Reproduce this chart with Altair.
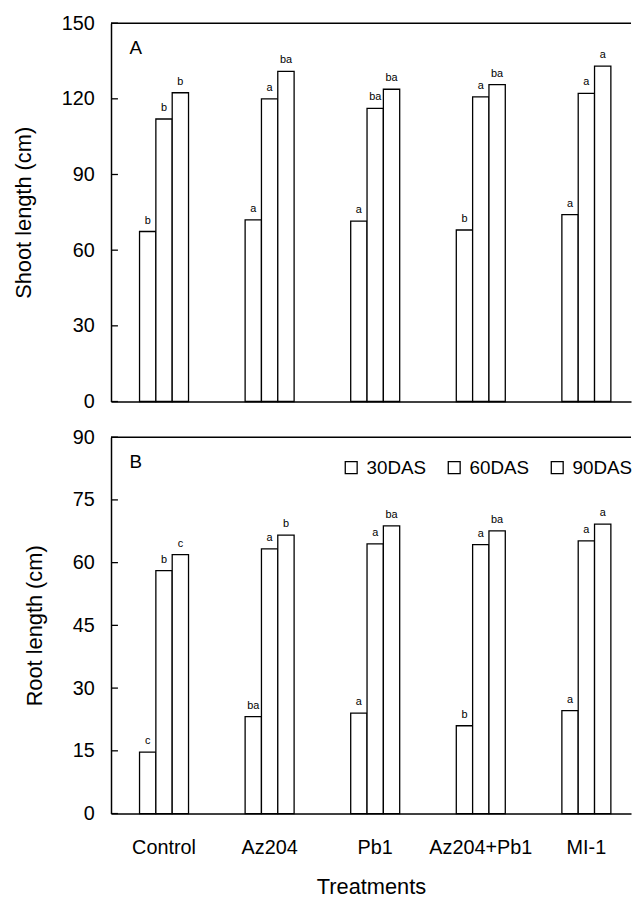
import altair as alt
import pandas as pd

treatments = ["Control", "Az204", "Pb1", "Az204+Pb1", "MI-1"]
stages = ["30DAS", "60DAS", "90DAS"]

shoot_30 = [67.4, 72.0, 71.5, 68.0, 74.1]
shoot_60 = [112.0, 120.0, 116.2, 120.8, 122.2]
shoot_90 = [122.4, 130.9, 123.8, 125.6, 133.0]
shoot_sig_30 = ["b", "a", "a", "b", "a"]
shoot_sig_60 = ["b", "a", "ba", "a", "a"]
shoot_sig_90 = ["b", "ba", "ba", "ba", "a"]

root_30 = [14.7, 23.2, 24.0, 21.0, 24.6]
root_60 = [58.1, 63.3, 64.5, 64.3, 65.2]
root_90 = [61.9, 66.6, 68.8, 67.6, 69.2]
root_sig_30 = ["c", "ba", "a", "b", "a"]
root_sig_60 = ["b", "a", "a", "a", "a"]
root_sig_90 = ["c", "b", "ba", "ba", "a"]

shoot_ticks = [0, 30, 60, 90, 120, 150]
root_ticks = [0, 15, 30, 45, 60, 75, 90]

FONT = "Liberation Sans"
W = 525


def make_df(v30, v60, v90, s30, s60, s90):
    rows = []
    for vals, sigs, st in [(v30, s30, "30DAS"), (v60, s60, "60DAS"), (v90, s90, "90DAS")]:
        for t, v, s in zip(treatments, vals, sigs):
            rows.append({"Treatment": t, "Stage": st, "Value": v, "Sig": s})
    return pd.DataFrame(rows)


shoot_df = make_df(shoot_30, shoot_60, shoot_90, shoot_sig_30, shoot_sig_60, shoot_sig_90)
root_df = make_df(root_30, root_60, root_90, root_sig_30, root_sig_60, root_sig_90)


def panel(df, ticks, ymax, ytitle, letter, bottom, height):
    if bottom:
        xaxis = alt.Axis(ticks=False, labelFontSize=20, labelPadding=24, labelAngle=0,
                         title="Treatments", titleFontSize=22, titleFontWeight="normal",
                         titlePadding=20, domainColor="black", domainWidth=1.5)
    else:
        xaxis = alt.Axis(ticks=False, labels=False, title=None,
                         domainColor="black", domainWidth=1.5)
    x = alt.X("Treatment:N", sort=treatments,
              scale=alt.Scale(paddingInner=0.536, paddingOuter=0.2305, align=0.586),
              axis=xaxis)
    xo = alt.XOffset("Stage:N", sort=stages,
                     scale=alt.Scale(paddingInner=0, paddingOuter=0))
    yaxis = alt.Axis(values=ticks, ticks=False, grid=False, labelFontSize=20,
                     labelPadding=17, title=ytitle, titleFontSize=22,
                     titleFontWeight="normal", titlePadding=26,
                     domainColor="black", domainWidth=1.5)
    y = alt.Y("Value:Q", scale=alt.Scale(domain=[0, ymax], nice=False, zero=True),
              axis=yaxis)

    enc = dict(x=x, xOffset=xo, y=y)
    if bottom:
        enc["fill"] = alt.Fill(
            "Stage:N", sort=stages,
            scale=alt.Scale(domain=stages, range=["white", "white", "white"]),
            legend=alt.Legend(orient="none", direction="horizontal", legendX=233,
                              legendY=21, title=None, symbolType="square",
                              symbolSize=144, symbolStrokeColor="black",
                              symbolStrokeWidth=1.3, labelFontSize=19,
                              labelOffset=6, columnPadding=18, labelFont=FONT,
                              labelColor="black", padding=0))
        bars = alt.Chart(df).mark_bar(stroke="black", strokeWidth=1.3).encode(**enc)
    else:
        bars = alt.Chart(df).mark_bar(stroke="black", strokeWidth=1.3,
                                      fill="white").encode(**enc)

    letters = alt.Chart(df).mark_text(dy=-8, baseline="alphabetic", fontSize=11,
                                      font=FONT, color="black").encode(
        x=x, xOffset=xo, y=y, text="Sig:N")

    tick_df = pd.DataFrame({"Value": ticks})
    tick_rules = alt.Chart(tick_df).mark_rule(color="black", strokeWidth=1.3).encode(
        y=y, x=alt.value(0), x2=alt.value(7))

    top_border = alt.Chart(pd.DataFrame({"b": [0]})).mark_rule(
        color="black", strokeWidth=1.5
    ).encode(x=alt.value(0), x2=alt.value(W), y=alt.value(0))

    tag = alt.Chart(pd.DataFrame({"l": [letter]})).mark_text(
        fontSize=19, font=FONT, color="black", align="center", baseline="middle"
    ).encode(text="l:N", x=alt.value(25), y=alt.value(25))

    return alt.layer(bars, letters, tick_rules, top_border, tag).properties(
        width=W, height=height)


top = panel(shoot_df, shoot_ticks, 150, "Shoot length (cm)", "A", False, 382)
bot = panel(root_df, root_ticks, 90, "Root length (cm)", "B", True, 380)

chart = alt.vconcat(top, bot, spacing=36, bounds="flush").resolve_scale(
    x="independent", y="independent", fill="independent"
).properties(
    padding={"left": 4, "top": 1, "right": 0, "bottom": 0}
).configure(font=FONT).configure_view(
    stroke=None
).configure_axis(
    labelColor="black", titleColor="black", labelFont=FONT, titleFont=FONT
)

chart.save("out.html", embed_options={"renderer": "svg", "actions": False})
